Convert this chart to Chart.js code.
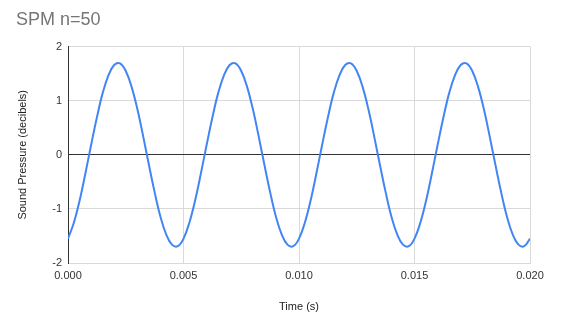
<!DOCTYPE html>
<html>
<head>
<meta charset="utf-8">
<script src="https://cdn.jsdelivr.net/npm/chart.js@4.4.0/dist/chart.umd.min.js"></script>
<style>
  body { margin: 0; background: #fff; }
  #wrap { width: 578px; height: 324px; }
</style>
</head>
<body>
<div id="wrap"><canvas id="spmChart"></canvas></div>
<script>
// Temps (s) et pression acoustique
const timeValues = [
    0.0000, 0.00025, 0.0005, 0.00075, 0.0010, 0.00125, 0.0015, 0.00175, 0.0020, 0.00225,
    0.0025, 0.00275, 0.0030, 0.00325, 0.0035, 0.00375, 0.0040, 0.00425, 0.0045, 0.00475,
    0.0050, 0.00525, 0.0055, 0.00575, 0.0060, 0.00625, 0.0065, 0.00675, 0.0070, 0.00725,
    0.0075, 0.00775, 0.0080, 0.00825, 0.0085, 0.00875, 0.0090, 0.00925, 0.0095, 0.00975,
    0.0100, 0.01025, 0.0105, 0.01075, 0.0110, 0.01125, 0.0115, 0.01175, 0.0120, 0.01225,
    0.0125, 0.01275, 0.0130, 0.01325, 0.0135, 0.01375, 0.0140, 0.01425, 0.0145, 0.01475,
    0.0150, 0.01525, 0.0155, 0.01575, 0.0160, 0.01625, 0.0165, 0.01675, 0.0170, 0.01725,
    0.0175, 0.01775, 0.0180, 0.01825, 0.0185, 0.01875, 0.0190, 0.01925, 0.0195, 0.01975,
    0.0200
];
const pressureValues = [
    -1.55, -1.26, -0.85, -0.35, 0.18, 0.69, 1.14, 1.47, 1.66, 1.69,
    1.55, 1.26, 0.85, 0.35, -0.18, -0.69, -1.14, -1.47, -1.66, -1.69,
    -1.55, -1.26, -0.85, -0.35, 0.18, 0.69, 1.14, 1.47, 1.66, 1.69,
    1.55, 1.26, 0.85, 0.35, -0.18, -0.69, -1.14, -1.47, -1.66, -1.69,
    -1.55, -1.26, -0.85, -0.35, 0.18, 0.69, 1.14, 1.47, 1.66, 1.69,
    1.55, 1.26, 0.85, 0.35, -0.18, -0.69, -1.14, -1.47, -1.66, -1.69,
    -1.55, -1.26, -0.85, -0.35, 0.18, 0.69, 1.14, 1.47, 1.66, 1.69,
    1.55, 1.26, 0.85, 0.35, -0.18, -0.69, -1.14, -1.47, -1.66, -1.69,
    -1.55
];
const xTicks = [0, 0.005, 0.010, 0.015, 0.020];
const yTicks = [-2, -1, 0, 1, 2];

const points = timeValues.map((t, i) => ({ x: t, y: pressureValues[i] }));
const fontFamily = '"Liberation Sans", Arial, sans-serif';

const ctx = document.getElementById('spmChart').getContext('2d');
const chart = new Chart(ctx, {
    type: 'line',
    data: {
        datasets: [{
            label: 'SPM',
            data: points,
            borderColor: '#4285f4',
            borderWidth: 2,
            pointRadius: 0,
            fill: false,
            tension: 0.4
        }]
    },
    options: {
        responsive: true,
        maintainAspectRatio: false,
        animation: false,
        layout: {
            padding: { left: 16, right: 48, top: 0, bottom: 6 }
        },
        plugins: {
            legend: { display: false },
            tooltip: { enabled: false },
            title: {
                display: true,
                text: 'SPM n=50',
                align: 'start',
                color: '#757575',
                font: { family: fontFamily, size: 18, weight: 'normal' },
                padding: { top: 9, bottom: 16 }
            }
        },
        scales: {
            x: {
                type: 'linear',
                min: xTicks[0],
                max: xTicks[xTicks.length - 1],
                afterBuildTicks: function(scale) {
                    scale.ticks = xTicks.map(v => ({ value: v }));
                },
                afterFit: function(scale) {
                    scale.height = 55;
                },
                ticks: {
                    color: '#333',
                    font: { family: fontFamily, size: 11 },
                    maxRotation: 0,
                    padding: 6,
                    callback: function(value) {
                        return value.toFixed(3);
                    }
                },
                grid: { color: '#d9d9d9', drawTicks: false },
                border: { color: '#d9d9d9' },
                title: {
                    display: true,
                    text: 'Time (s)',
                    color: '#222',
                    font: { family: fontFamily, size: 11 },
                    padding: { top: 20 }
                }
            },
            y: {
                min: yTicks[0],
                max: yTicks[yTicks.length - 1],
                afterBuildTicks: function(scale) {
                    scale.ticks = yTicks.map(v => ({ value: v }));
                },
                afterFit: function(scale) {
                    scale.width = 52;
                },
                ticks: {
                    color: '#333',
                    font: { family: fontFamily, size: 11 },
                    padding: 6
                },
                grid: {
                    drawTicks: false,
                    color: function(context) {
                        return context.tick && context.tick.value === 0 ? '#333' : '#d9d9d9';
                    }
                },
                border: { color: '#333' },
                title: {
                    display: true,
                    text: 'Sound Pressure (decibels)',
                    color: '#222',
                    font: { family: fontFamily, size: 11 },
                    padding: 0
                }
            }
        }
    }
});
</script>
</body>
</html>
